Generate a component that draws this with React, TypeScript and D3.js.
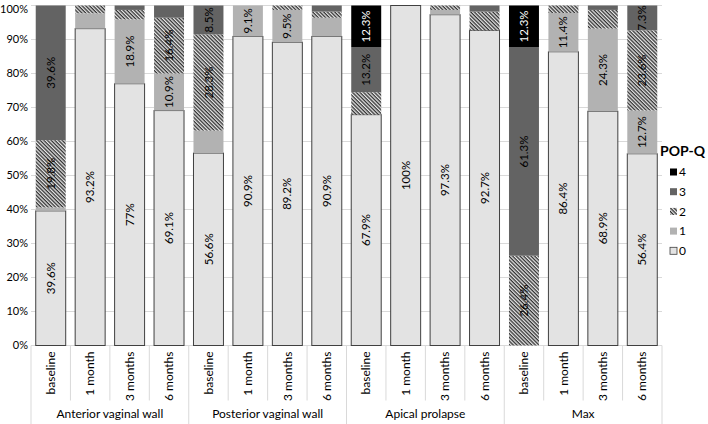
import * as d3 from 'd3';
import React from 'react';

const groups = ['Anterior vaginal wall', 'Posterior vaginal wall', 'Apical prolapse', 'Max'];
const periods = ['baseline', '1 month', '3 months', '6 months'];
const grades = ['0', '1', '2', '3', '4'];

// percent per grade, one entry per bar (group x period)
const grade0 = [39.6, 93.2, 77, 69.1, 56.6, 90.9, 89.2, 90.9, 67.9, 100, 97.3, 92.7, 0, 86.4, 68.9, 56.4];
const grade1 = [1.0, 4.5, 18.9, 10.9, 6.6, 9.1, 9.5, 5.5, 0, 0, 1.4, 0, 0, 11.4, 24.3, 12.7];
const grade2 = [19.8, 2.3, 2.8, 16.4, 28.3, 0, 1.3, 1.8, 6.6, 0, 1.3, 5.5, 26.4, 2.2, 5.5, 23.6];
const grade3 = [39.6, 0, 1.3, 3.6, 8.5, 0, 0, 1.8, 13.2, 0, 0, 1.8, 61.3, 0, 1.3, 7.3];
const grade4 = [0, 0, 0, 0, 0, 0, 0, 0, 12.3, 0, 0, 0, 12.3, 0, 0, 0];
const yTicks = [0, 10, 20, 30, 40, 50, 60, 70, 80, 90, 100];

const width = 708;
const height = 424;
const margin = { top: 5.5, right: 46, bottom: 78.5, left: 31 };
const font = 'Lato, "Open Sans", sans-serif';
const fills = ['#e3e3e3', '#b2b2b2', 'url(#hatch)', '#636363', '#000000'];

const bars = grade0.map((_, i) => ({
  i,
  '0': grade0[i],
  '1': grade1[i],
  '2': grade2[i],
  '3': grade3[i],
  '4': grade4[i],
}));

const App: React.FC = () => {
  const x = d3
    .scaleBand<number>()
    .domain(d3.range(bars.length))
    .range([margin.left, width - margin.right])
    .paddingInner(0.24)
    .paddingOuter(0.12);
  const y = d3
    .scaleLinear()
    .domain([0, 100])
    .range([height - margin.bottom, margin.top]);
  const stack = d3.stack<any>().keys(grades)(bars);
  const step = x.step();
  const x0 = margin.left;
  const bottom = height - margin.bottom;

  return (
    <svg width={width} height={height} style={{ position: 'absolute', left: 0, top: 0 }} fontFamily={font}>
      <defs>
        <pattern id="hatch" width={2.6} height={2.6} patternUnits="userSpaceOnUse" patternTransform="rotate(45)">
          <rect width={2.6} height={2.6} fill="#e6e6e6" />
          <rect width={2.6} height={1.3} fill="#333" />
        </pattern>
      </defs>
      <rect width={width} height={height} fill="#fff" />
      {yTicks.map((t) => (
        <g key={t}>
          <line x1={x0} x2={width - margin.right} y1={y(t)} y2={y(t)} stroke="#d9d9d9" />
          <text x={28} y={Math.max(y(t), 9)} dy="0.35em" textAnchor="end" fontSize={11} fill="#000">
            {t}%
          </text>
        </g>
      ))}
      {stack.map((s, k) =>
        s.map((d, i) => {
          const v = d[1] - d[0];
          if (v <= 0) return null;
          return (
            <rect
              key={`${k}-${i}`}
              x={x(i)}
              y={y(d[1])}
              width={x.bandwidth()}
              height={y(d[0]) - y(d[1])}
              fill={fills[k]}
              stroke={k === 0 ? '#404040' : 'none'}
              strokeWidth={1}
            />
          );
        })
      )}
      {stack.map((s, k) =>
        s.map((d, i) => {
          const v = d[1] - d[0];
          if (v < 7) return null;
          const cx = (x(i) as number) + x.bandwidth() / 2;
          const cy = y((d[0] + d[1]) / 2);
          return (
            <text
              key={`l${k}-${i}`}
              transform={`translate(${cx},${cy}) rotate(-90)`}
              textAnchor="middle"
              dy="0.35em"
              fontSize={11.5}
              fill={k === 4 ? '#fff' : '#000'}
            >
              {`${v.toFixed(1).replace(/\.0$/, '')}%`}
            </text>
          );
        })
      )}
      {/* category axis */}
      {d3.range(bars.length + 1).map((k) => (
        <line
          key={`sep${k}`}
          x1={x0 + k * step}
          x2={x0 + k * step}
          y1={bottom}
          y2={k % periods.length === 0 ? height : bottom + 55}
          stroke="#d9d9d9"
        />
      ))}
      {bars.map((b) => (
        <text
          key={`p${b.i}`}
          transform={`translate(${(x(b.i) as number) + x.bandwidth() / 2},${bottom + 6}) rotate(-90)`}
          textAnchor="end"
          dy="0.35em"
          fontSize={12}
        >
          {periods[b.i % periods.length]}
        </text>
      ))}
      {groups.map((g, gi) => (
        <text
          key={g}
          x={x0 + (gi * periods.length + periods.length / 2) * step}
          y={418}
          textAnchor="middle"
          fontSize={12}
        >
          {g}
        </text>
      ))}
      {/* legend */}
      <text x={660} y={156} fontSize={14} fontWeight="bold" fill="#000">
        POP-Q
      </text>
      {grades
        .slice()
        .reverse()
        .map((g, j) => {
          const k = grades.length - 1 - j;
          const ly = 172 + j * 19.7;
          return (
            <g key={`lg${g}`}>
              <rect
                x={670}
                y={ly - 3.5}
                width={7}
                height={7}
                fill={fills[k]}
                stroke={k === 0 ? '#404040' : 'none'}
                strokeWidth={0.8}
              />
              <text x={679} y={ly} dy="0.35em" fontSize={12}>
                {g}
              </text>
            </g>
          );
        })}
    </svg>
  );
};

export default App;
